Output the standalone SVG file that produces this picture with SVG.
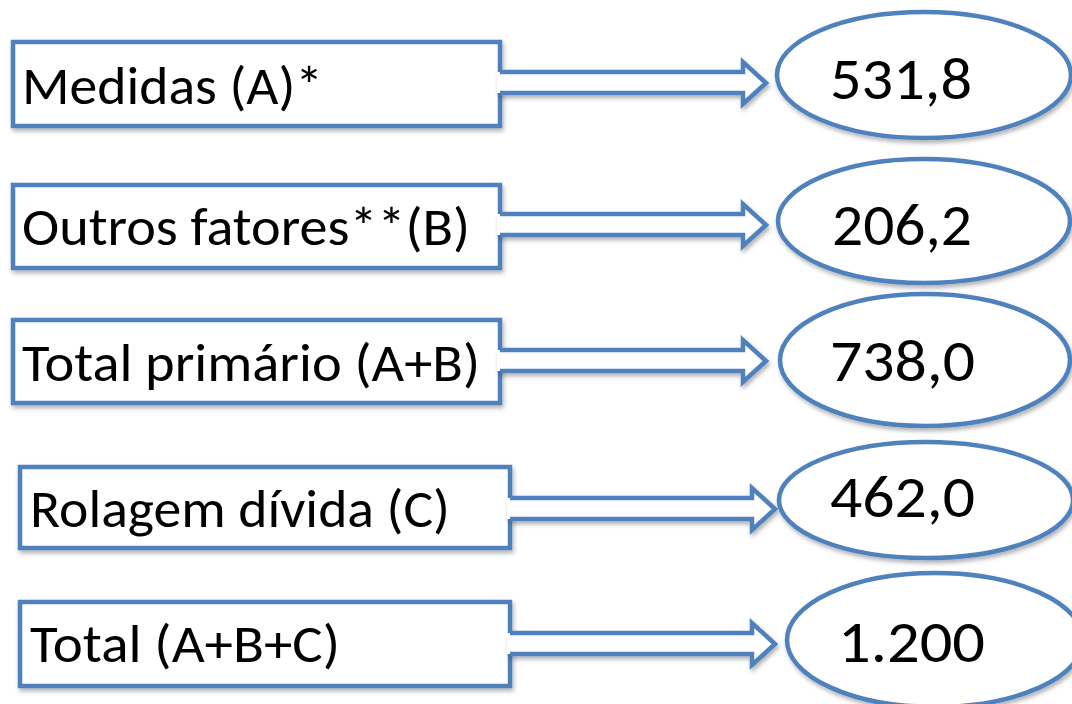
<svg xmlns="http://www.w3.org/2000/svg" width="1072" height="704" viewBox="0 0 1072 704">
<defs>
<filter id="sh" x="-10%" y="-10%" width="120%" height="130%">
<feDropShadow dx="1.5" dy="3" stdDeviation="2" flood-color="#000" flood-opacity="0.3"/>
</filter>
</defs>
<style>
.box{fill:#fff;stroke:#4F81BD;stroke-width:4.5;filter:url(#sh)}
.ell{fill:#fff;stroke:#4F81BD;stroke-width:4.5;filter:url(#sh)}
.af{fill:#fff;stroke:none}
.as{fill:none;stroke:#4F81BD;stroke-width:4.5;stroke-linejoin:miter}
.t{font-family:Carlito,Lato,"Open Sans",sans-serif;font-size:54px;fill:#000}
.n{font-family:Carlito,Lato,"Open Sans",sans-serif;font-size:60px;fill:#000}
</style>
<rect width="1072" height="704" fill="#fff"/>
<g id="node-a"><rect class="box" x="13" y="42" width="487" height="84"/><text class="t" x="22" y="104" textLength="301" lengthAdjust="spacingAndGlyphs">Medidas (A)*</text></g>
<g id="node-b"><rect class="box" x="13" y="185" width="487" height="83"/><text class="t" x="22" y="245" textLength="448" lengthAdjust="spacingAndGlyphs">Outros fatores**(B)</text></g>
<g id="node-ab"><rect class="box" x="13" y="320" width="487" height="83"/><text class="t" x="22" y="381" textLength="458" lengthAdjust="spacingAndGlyphs">Total primário (A+B)</text></g>
<g id="node-c"><rect class="box" x="20" y="467" width="490" height="81"/><text class="t" x="30" y="527" textLength="420" lengthAdjust="spacingAndGlyphs">Rolagem dívida (C)</text></g>
<g id="node-abc"><rect class="box" x="20" y="602" width="490" height="84"/><text class="t" x="30" y="662" textLength="310" lengthAdjust="spacingAndGlyphs">Total (A+B+C)</text></g>
<g id="connectors">
<g filter="url(#sh)">
<path class="af" d="M497,72 H743 V62 L766,83 L743,104 V93 H497 Z"/>
<path class="as" d="M500,72 H743 V62 L766,83 L743,104 V93 H500"/>
<path class="af" d="M497,214 H743 V204 L766,225 L743,246 V235 H497 Z"/>
<path class="as" d="M500,214 H743 V204 L766,225 L743,246 V235 H500"/>
<path class="af" d="M497,350 H743 V340 L766,361 L743,382 V371 H497 Z"/>
<path class="as" d="M500,350 H743 V340 L766,361 L743,382 V371 H500"/>
<path class="af" d="M507,498 H752 V488 L775,509 L752,530 V519 H507 Z"/>
<path class="as" d="M510,498 H752 V488 L775,509 L752,530 V519 H510"/>
<path class="af" d="M507,633 H752 V623 L775,644 L752,665 V654 H507 Z"/>
<path class="as" d="M510,633 H752 V623 L775,644 L752,665 V654 H510"/>
</g>
</g>
<g id="val-a"><ellipse class="ell" cx="924" cy="75" rx="147" ry="63"/><text class="n" x="830" y="99" textLength="142" lengthAdjust="spacingAndGlyphs">531,8</text></g>
<g id="val-b"><ellipse class="ell" cx="924" cy="221" rx="146" ry="62"/><text class="n" x="832" y="245" textLength="140" lengthAdjust="spacingAndGlyphs">206,2</text></g>
<g id="val-ab"><ellipse class="ell" cx="925" cy="360" rx="145" ry="66"/><text class="n" x="830" y="381" textLength="145" lengthAdjust="spacingAndGlyphs">738,0</text></g>
<g id="val-c"><ellipse class="ell" cx="926" cy="500" rx="147" ry="58"/><text class="n" x="830" y="517" textLength="145" lengthAdjust="spacingAndGlyphs">462,0</text></g>
<g id="val-abc"><ellipse class="ell" cx="935" cy="640" rx="148" ry="67"/><text class="n" x="838" y="662" textLength="147" lengthAdjust="spacingAndGlyphs">1.200</text></g>
</svg>
